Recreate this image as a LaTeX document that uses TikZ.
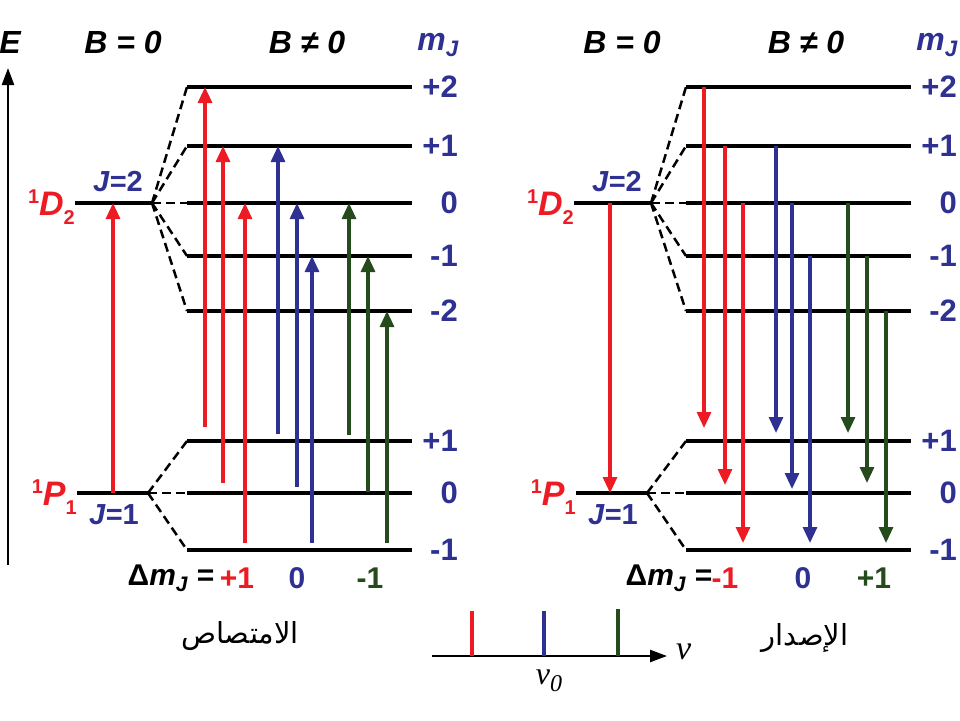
\documentclass[tikz,border=0pt]{standalone}
\usepackage{fontspec}
\setmainfont{Liberation Sans}
\newfontfamily\arabicfont[Script=Arabic]{DejaVu Sans}
\newfontfamily\nufont{Liberation Serif}
\TeXXeTstate=1
\usetikzlibrary{calc}
\usetikzlibrary{arrows.meta}
\usetikzlibrary{positioning}
\definecolor{zred}{HTML}{ED1C24}
\definecolor{zblue}{HTML}{2E3192}
\definecolor{zgreen}{HTML}{254A1C}
\newcommand{\fsz}[1]{\fontsize{#1}{#1}\selectfont}
\newcommand{\drawZeeman}[2]{
	\begin{scope}[shift={(#2,0)}]
		%Zero field levels
		\coordinate (#1D0) at (75,203);
		\coordinate (#1D) at (152,203);
		\coordinate (#1P0) at (77,493);
		\coordinate (#1P) at (148,493);
		\draw[Level] (#1D0) -- (#1D);
		\draw[Level] (#1P0) -- (#1P);

		%Split levels of the upper term
		\foreach \n/\y/\lab in {2/87/+2, 1/146/+1, 0/203/0, m1/256/-1, m2/311/-2}{
			\coordinate (#1u\n) at (187,\y);
			\draw[Split] (#1D) -- (#1u\n);
			\draw[Level] (#1u\n) -- ++(225,0);
			\node[MJ] (#1mu\n) at ($(#1u\n)+(271,0)$) {\lab};
		}

		%Split levels of the lower term
		\foreach \n/\y/\lab in {1/441/+1, 0/493/0, m1/550/-1}{
			\coordinate (#1l\n) at (187,\y);
			\draw[Split] (#1P) -- (#1l\n);
			\draw[Level] (#1l\n) -- ++(225,0);
			\node[MJ] (#1ml\n) at ($(#1l\n)+(271,0)$) {\lab};
		}

		%Term labels
		\node[Term, anchor=base east] (#1TD) at ($(#1D0)+(0,12)$) {\raisebox{12pt}{\fsz{20}1}\textit{D}\raisebox{-9pt}{\fsz{20}2}};
		\node[Term, anchor=base east] (#1TP) at ($(#1P0)+(0,12)$) {\raisebox{12pt}{\fsz{20}1}\textit{P}\raisebox{-9pt}{\fsz{20}1}};
		\node[JLab] (#1JD) at ($(#1D)+(-34,-21)$) {\textit{J}=2};
		\node[JLab] (#1JP) at ($(#1P)+(-34,22)$) {\textit{J}=1};

		%Headings
		\node[Head] (#1B0) at (123,42) {B = 0};
		\node[Head] (#1B1) at (307,42) {B ≠ 0};
		\node[Head, text=zblue] (#1mJ) at (438,45) {m\textsubscript{J}};
	\end{scope}
}

\begin{document}
\begin{tikzpicture}[x=1pt, y=-1pt]
	\tikzset{
		Level/.style={line width=3.4pt, black},
		Split/.style={line width=2.5pt, black, dash pattern=on 9pt off 5pt},
		Trans/.style={line width=3.1pt, -{Triangle[length=16pt,width=14pt]}},
		Axis/.style={line width=2.3pt, black, -{Triangle[length=17pt,width=12pt]}},
		Tick/.style={line width=3.4pt},
		MJ/.style={text=zblue, font=\fsz{31}\bfseries, anchor=east, inner sep=0pt},
		Term/.style={text=zred, font=\fsz{34}\bfseries, inner sep=0pt},
		JLab/.style={text=zblue, font=\fsz{29}\bfseries, inner sep=0pt},
		Head/.style={font=\fsz{32}\bfseries\itshape, inner sep=0pt},
		DM/.style={font=\fsz{30}\bfseries, inner sep=0pt},
		Word/.style={font=\fsz{29}\arabicfont, inner sep=0pt}
	}
	\useasboundingbox (0,0) rectangle (960,720);

	%Energy axis
	\coordinate (Ebot) at (8,565);
	\coordinate (Etop) at (8,68);
	\draw[Axis] (Ebot) -- (Etop);
	\node[Head] (E) at (10,42) {E};

	%Absorption and emission schemes
	\drawZeeman{A}{0}
	\drawZeeman{B}{499}

	%Absorption lines
	\foreach \x/\y/\lev/\col in {113/493/D/zred,
		205/427/u2/zred, 223/483/u1/zred, 245/543/u0/zred,
		278/434/u1/zblue, 297/487/u0/zblue, 312/543/um1/zblue,
		349/435/u0/zgreen, 368/492/um1/zgreen, 387/543/um2/zgreen}{
		\coordinate (a\x) at (\x,\y);
		\draw[Trans, \col] (a\x) -- (a\x |- A\lev);
	}

	%Emission lines
	\begin{scope}[shift={(499,0)}]
		\foreach \x/\y/\lev/\col in {111/493/D/zred,
			205/428/u2/zred, 226/485/u1/zred, 244/543/u0/zred,
			277/433/u1/zblue, 293/489/u0/zblue, 311/543/um1/zblue,
			349/433/u0/zgreen, 368/483/um1/zgreen, 387/543/um2/zgreen}{
			\coordinate (e\x) at (\x,\y);
			\draw[Trans, \col] (e\x |- B\lev) -- (e\x);
		}
	\end{scope}

	%Selection rules
	\node[DM] (Adm) at (171,578) {Δ\textit{m}\textsubscript{\textit{J}} =};
	\node[DM, text=zred] (Adp) at (237,578) {+1};
	\node[DM, text=zblue] (Adz) at (297,578) {0};
	\node[DM, text=zgreen] (Adn) at (370,578) {-1};
	\node[DM] (Bdm) at (669,578) {Δ\textit{m}\textsubscript{\textit{J}} =};
	\node[DM, text=zred] (Bdn) at (725,578) {-1};
	\node[DM, text=zblue] (Bdz) at (803,578) {0};
	\node[DM, text=zgreen] (Bdp) at (874,578) {+1};

	%Spectrum
	\coordinate (S0) at (432,656);
	\coordinate (S1) at (667,656);
	\draw[Axis] (S0) -- (S1);
	\node[font=\fsz{34}\nufont\itshape, anchor=west, inner sep=0pt] (nu) at ($(S1)+(9,-4)$) {ν};
	\foreach \x/\h/\col in {472/45/zred, 544/45/zblue, 618/47/zgreen}{
		\coordinate (t\x) at (\x,656);
		\draw[Tick, \col] (t\x) -- ++(0,-\h);
	}
	\node[font=\fsz{32}\nufont\itshape, inner sep=0pt] (nu0) at ($(t544)+(5,25)$) {ν\raisebox{-7pt}{\fsz{24}\nufont\itshape 0}};

	%Captions
	\node[Word] (Abs) at (240,636) {\beginR الامتصاص\endR};
	\node[Word] (Emi) at (805,638) {\beginR الإصدار\endR};
\end{tikzpicture}
\end{document}
